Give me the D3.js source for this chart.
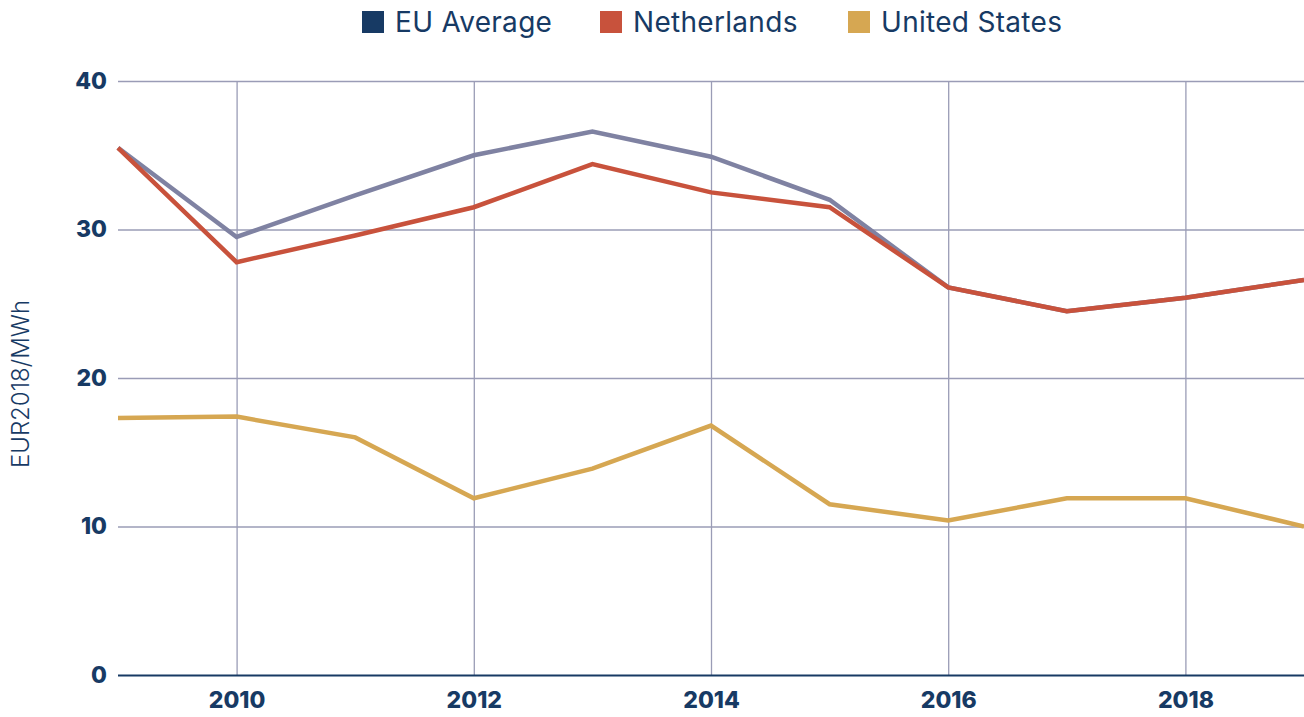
<!DOCTYPE html>
<html lang="en">
<head>
    <meta charset="UTF-8">
    <title>Electricity price chart</title>
    <script src="https://d3js.org/d3.v7.min.js"></script>
    <style>
        body { margin: 0; background: #fff; }
        svg text { font-family: Inter, "Liberation Sans", sans-serif; }
    </style>
</head>
<body>
    <div class="chart"></div>
    <script>
        // Data
        const years = [2009, 2010, 2011, 2012, 2013, 2014, 2015, 2016, 2017, 2018, 2019];
        const euAverage = [35.5, 29.5, 32.3, 35.0, 36.6, 34.9, 32.0, 26.1, 24.5, 25.4, 26.6];
        const netherlands = [35.5, 27.8, 29.6, 31.5, 34.4, 32.5, 31.5, 26.1, 24.5, 25.4, 26.6];
        const unitedStates = [17.3, 17.4, 16.0, 11.9, 13.9, 16.8, 11.5, 10.4, 11.9, 11.9, 10.0];
        const xTicks = [2010, 2012, 2014, 2016, 2018];
        const yTicks = [0, 10, 20, 30, 40];

        const series = [
            { name: 'EU Average', values: euAverage, legend: '#173a64', line: '#7f82a2' },
            { name: 'Netherlands', values: netherlands, legend: '#c8523c', line: '#c8523c' },
            { name: 'United States', values: unitedStates, legend: '#d6a752', line: '#d6a752' }
        ];

        const width = 1304, height = 717;
        const margin = { top: 81, right: 0, bottom: 42, left: 118 };
        const navy = '#173a64';
        const gridColor = '#9a9cb6';

        const svg = d3.select('.chart').append('svg')
            .attr('width', width)
            .attr('height', height);

        const x = d3.scaleLinear()
            .domain([2009, 2019])
            .range([margin.left, width - margin.right]);
        const y = d3.scaleLinear()
            .domain([0, 40])
            .range([height - margin.bottom, margin.top]);

        // horizontal grid + y labels
        const yAxis = svg.append('g')
            .attr('transform', `translate(${margin.left},0)`)
            .call(d3.axisLeft(y).tickValues(yTicks).tickSize(-(width - margin.left - margin.right)).tickPadding(11));
        yAxis.select('.domain').remove();
        yAxis.selectAll('.tick line')
            .attr('stroke', d => d === 0 ? navy : gridColor)
            .attr('stroke-width', d => d === 0 ? 2 : 1.3);
        yAxis.selectAll('.tick text')
            .attr('fill', navy)
            .style('font-size', '23px')
            .style('font-weight', 800);

        // vertical grid + x labels
        const xAxis = svg.append('g')
            .attr('transform', `translate(0,${height - margin.bottom})`)
            .call(d3.axisBottom(x).tickValues(xTicks).tickFormat(d3.format('d'))
                .tickSize(-(height - margin.top - margin.bottom)).tickPadding(17));
        xAxis.select('.domain').remove();
        xAxis.selectAll('.tick line')
            .attr('stroke', gridColor)
            .attr('stroke-width', 1.3);
        xAxis.selectAll('.tick text')
            .attr('fill', navy)
            .style('font-size', '23px')
            .style('font-weight', 800);

        // keep the baseline on top
        yAxis.raise();

        // lines
        const line = d3.line()
            .x((d, i) => x(years[i]))
            .y(d => y(d));

        svg.append('g')
            .selectAll('path')
            .data(series)
            .join('path')
            .attr('d', d => line(d.values))
            .attr('fill', 'none')
            .attr('stroke', d => d.line)
            .attr('stroke-width', 4.5)
            .attr('stroke-linejoin', 'miter');

        // y axis title
        svg.append('text')
            .attr('transform', `translate(29,384) rotate(-90)`)
            .attr('text-anchor', 'middle')
            .attr('fill', navy)
            .style('font-size', '24px')
            .style('font-weight', 300)
            .text('EUR2018/MWh');

        // legend
        const legendX = [362, 600, 848];
        const legend = svg.append('g')
            .selectAll('g')
            .data(series)
            .join('g')
            .attr('transform', (d, i) => `translate(${legendX[i]},11)`);
        legend.append('rect')
            .attr('width', 22)
            .attr('height', 22)
            .attr('fill', d => d.legend);
        legend.append('text')
            .attr('x', 33)
            .attr('y', 21)
            .attr('fill', navy)
            .style('font-size', '28px')
            .style('letter-spacing', '0.3px')
            .text(d => d.name);
    </script>
</body>
</html>
